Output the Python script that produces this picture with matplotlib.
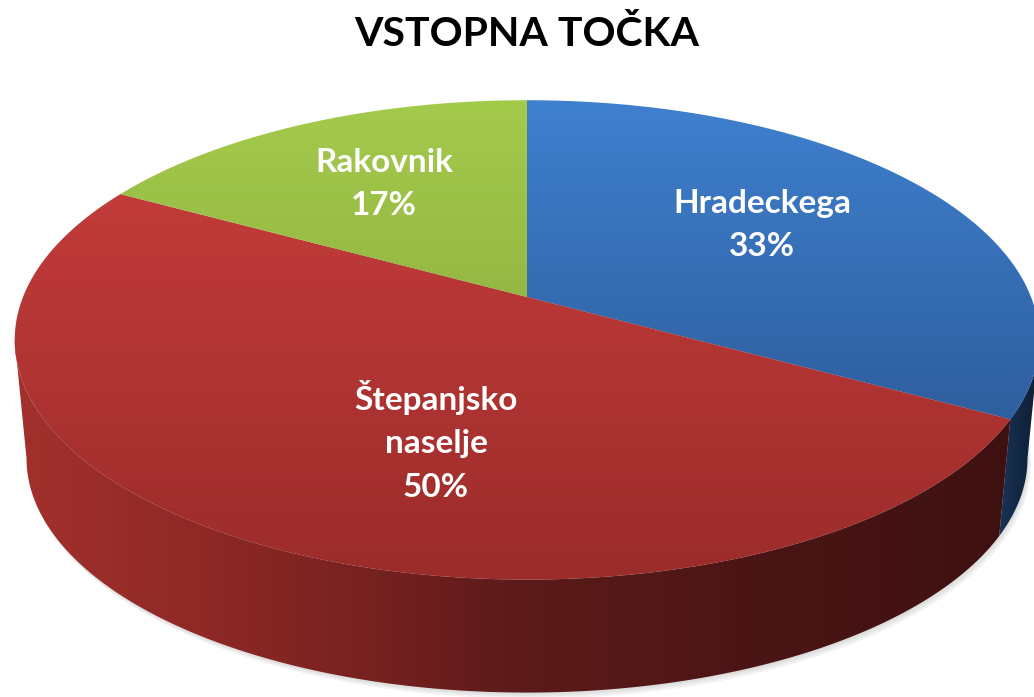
import numpy as np
import matplotlib.pyplot as plt
from matplotlib.patches import Polygon
from matplotlib.colors import LinearSegmentedColormap, to_rgb

#chart data
names = ['Hradeckega', 'Štepanjsko\nnaselje', 'Rakovnik']
shares = [33, 50, 17]
title = 'VSTOPNA TOČKA'

#look of each slice: top face (upper, lower colour), side wall stops along x
top_colors = [('#3F80CF', '#264E86'), ('#CB3F3E', '#9B2C2A'), ('#A4CA4C', '#7E9E37')]
side_colors = [['#1C375E', '#0F2038'],
               ['#A3312D', '#862623', '#5C1A1A', '#4A1515', '#3E1010'],
               ['#6F8C2E', '#4F6620']]
label_xy = [(762, 225), (436, 441), (384, 184)]

W, H = 1034, 697
plt.rcParams['font.family'] = ['Lato', 'DejaVu Sans']

#projection of the pie plane (simple perspective)
CX, CY = 527, 297
A, B, K = 504, 232, -0.179
S, D = 0.977, 119.5

def top_pt(t, r=1.0):
	u, v = r*np.cos(t), r*np.sin(t)
	den = 1 + K*v
	return CX + A*u/den, CY + B*v/den

def bot_pt(t):
	u, v = np.cos(t), np.sin(t)
	den = 1 + K*v
	return CX + S*A*u/den, CY + D + S*B*v/den

fig = plt.figure(figsize=(W/100, H/100), dpi=100)
ax = fig.add_axes([0, 0, 1, 1])
ax.set_xlim(0, W)
ax.set_ylim(H, 0)
ax.axis('off')

def grad_fill(poly_xy, colors, vertical=True, span=(0, 1)):
	'''Fill a polygon with a linear gradient through the given colours.'''
	patch = Polygon(poly_xy, closed=True, facecolor='none', edgecolor='none')
	ax.add_patch(patch)
	cmap = LinearSegmentedColormap.from_list('g', [to_rgb(c) for c in colors])
	if vertical:
		n = H
		vals = np.clip((np.arange(n) - span[0]) / (span[1] - span[0]), 0, 1)
		img = vals.reshape(n, 1)
	else:
		n = W
		vals = np.clip((np.arange(n) - span[0]) / (span[1] - span[0]), 0, 1)
		img = vals.reshape(1, n)
	im = ax.imshow(img, cmap=cmap, vmin=0, vmax=1, extent=(0, W, H, 0),
		aspect='auto', interpolation='bilinear', zorder=patch.get_zorder())
	im.set_clip_path(patch)
	return im

#slice angles, clockwise from 12 o'clock
edges = np.radians(-90 + 3.6*np.concatenate([[0], np.cumsum(shares)]))

#soft shadow under the pie
tt = np.linspace(0, 2*np.pi, 300)
bx, by = bot_pt(tt)
for off in [6, 4, 2]:
	ax.add_patch(Polygon(np.column_stack([bx + off*0.6, by + off]), closed=True,
		facecolor='#8a8a8a', edgecolor='none', alpha=0.1, zorder=0.5))

#side walls (only the front part faces the viewer)
t_r = np.arcsin(-K)
t_l = np.pi - t_r
for i in range(len(shares)):
	a0, a1 = max(edges[i], t_r), min(edges[i+1], t_l)
	if a1 <= a0:
		continue
	ts = np.linspace(a0, a1, 200)
	tx, ty = top_pt(ts)
	bx, by = bot_pt(ts)
	poly = np.column_stack([np.concatenate([tx, bx[::-1]]), np.concatenate([ty, by[::-1]])])
	sx0, sx1 = (15, 1034) if i != 0 else (990, 1034)
	grad_fill(poly, side_colors[i], vertical=False, span=(sx0, sx1))

#top faces
for i in range(len(shares)):
	ts = np.linspace(edges[i], edges[i+1], 300)
	tx, ty = top_pt(ts)
	poly = np.column_stack([np.concatenate([[CX], tx]), np.concatenate([[CY], ty])])
	grad_fill(poly, top_colors[i], vertical=True, span=(100, 580))

#labels
for i in range(len(shares)):
	x, y = label_xy[i]
	ax.text(x, y, '%s\n%d%%' % (names[i], shares[i]), ha='center', va='center',
		color='white', fontsize=24, fontweight='bold', linespacing=1.62, zorder=5)

ax.text(W/2 + 10, 34, title, ha='center', va='center', color='black',
	fontsize=29.5, fontweight='bold', zorder=5)

ax.set_xlim(0, W)
ax.set_ylim(H, 0)
fig.savefig('out.png', dpi=100)
